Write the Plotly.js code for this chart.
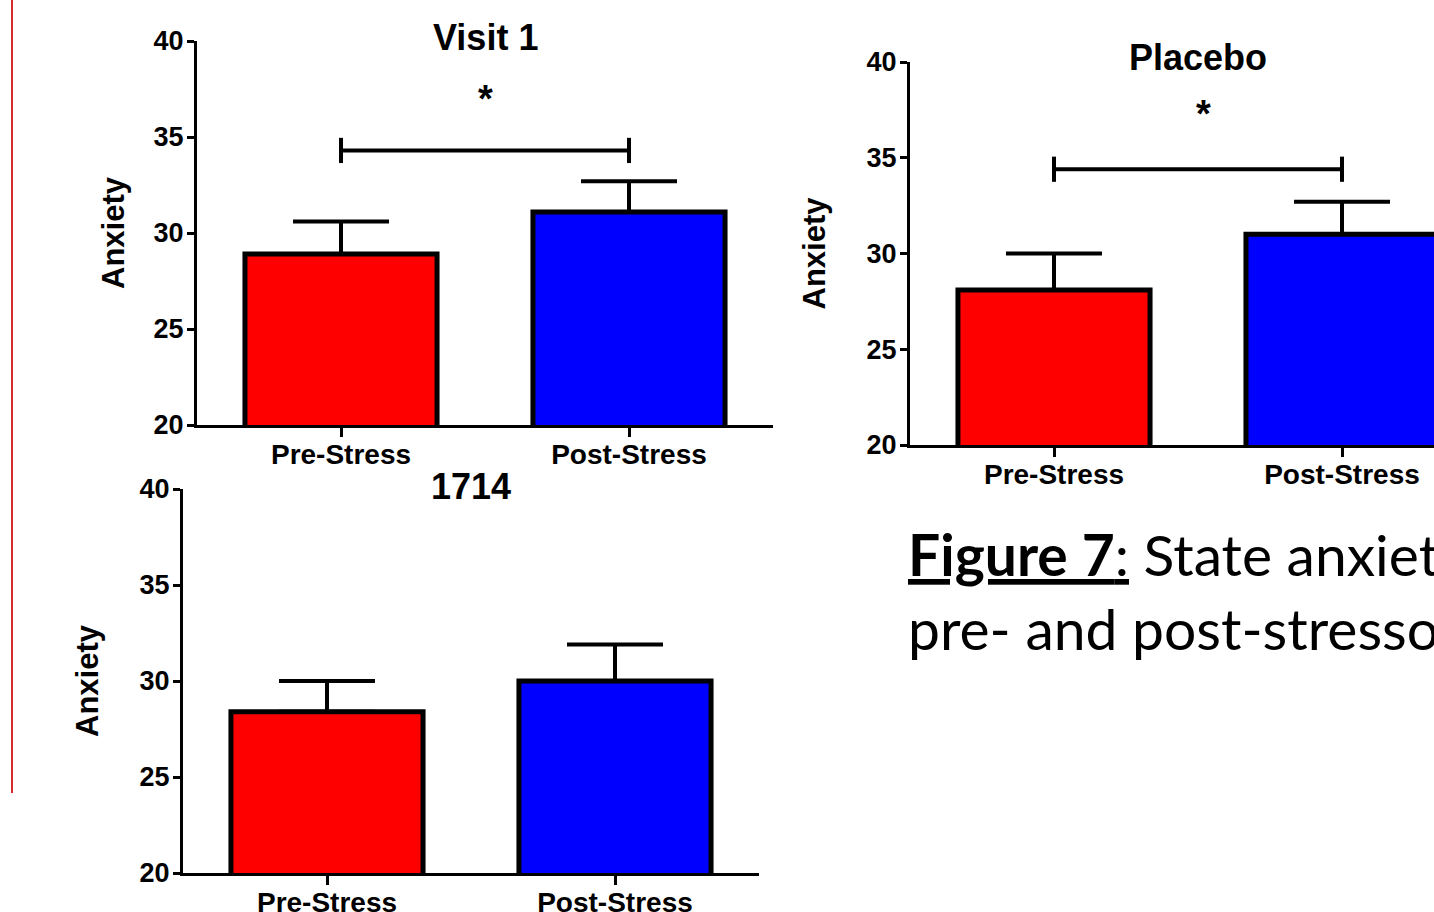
<!DOCTYPE html>
<html>
<head>
<meta charset="utf-8">
<script src="https://cdn.plot.ly/plotly-3.0.1.min.js"></script>
<style>
html,body{margin:0;padding:0;overflow:hidden;background:#fff;}
#chart{width:1500px;height:912px;}
</style>
</head>
<body>
<div id="chart"></div>
<script>
// ---- data ----
const categories = ['Pre-Stress', 'Post-Stress'];
const barColors = ['#ff0000', '#0000ff'];

const visit1Means = [28.9, 31.1];
const visit1Sem = [1.7, 1.6];
const visit1SigY = 34.3;
const visit1StarY = 37.0;

const placeboMeans = [28.1, 31.0];
const placeboSem = [1.9, 1.7];
const placeboSigY = 34.4;
const placeboStarY = 37.3;

const c1714Means = [28.4, 30.0];
const c1714Sem = [1.6, 1.9];

const yTicks = [20, 25, 30, 35, 40];
const titles = ['Visit 1', 'Placebo', '1714'];
const yLabel = 'Anxiety';
const captionLine1 = '<b><u>Figure 7</u></b><u>:</u> State anxiety';
const captionLine2 = 'pre- and post-stressor';

// ---- layout helpers ----
const W = 1500, H = 912;
const fx = p => p / W;
const fy = p => 1 - p / H;
const FONT = 'Liberation Sans, Arial, sans-serif';

function barTrace(means, sem, xa, ya) {
  return {
    type: 'bar', x: categories, y: means, xaxis: xa, yaxis: ya,
    width: 0.667,
    marker: {color: barColors, line: {color: '#000', width: 5}},
    error_y: {type: 'data', symmetric: false, array: sem, arrayminus: [0, 0],
              color: '#000', thickness: 4, width: 48},
    hoverinfo: 'skip', showlegend: false
  };
}
function sigTrace(yv, xa, ya) {
  return {
    type: 'scatter', mode: 'lines+markers', x: categories, y: [yv, yv],
    xaxis: xa, yaxis: ya,
    line: {color: '#000', width: 4},
    marker: {symbol: 'line-ns-open', size: 18, line: {color: '#000', width: 4}},
    hoverinfo: 'skip', showlegend: false
  };
}

const data = [
  barTrace(visit1Means, visit1Sem, 'x', 'y'),
  sigTrace(visit1SigY, 'x', 'y'),
  barTrace(placeboMeans, placeboSem, 'x2', 'y2'),
  sigTrace(placeboSigY, 'x2', 'y2'),
  barTrace(c1714Means, c1714Sem, 'x3', 'y3')
];

function xAxis(d, anchor) {
  return {
    domain: d, anchor: anchor, type: 'category', range: [-0.5, 1.5],
    showline: true, linecolor: '#000', linewidth: 3,
    ticks: 'outside', ticklen: 9, tickwidth: 3, tickcolor: '#000',
    ticklabelstandoff: -7,
    showgrid: false, zeroline: false, fixedrange: true,
    tickfont: {family: FONT, size: 28, color: '#000', weight: 'bold'}
  };
}
function yAxis(d, anchor, standoff) {
  return {
    domain: d, anchor: anchor, range: [20, 40], tickvals: yTicks,
    showline: true, linecolor: '#000', linewidth: 3,
    ticks: 'outside', ticklen: 7, tickwidth: 3, tickcolor: '#000',
    ticklabelstandoff: -2,
    showgrid: false, zeroline: false, fixedrange: true,
    tickfont: {family: FONT, size: 27, color: '#000', weight: 'bold'},
    title: {text: yLabel, standoff: standoff,
            font: {family: FONT, size: 31, color: '#000', weight: 'bold'}}
  };
}

const titleFont = {family: FONT, size: 36, color: '#000', weight: 'bold'};
const starFont = {family: FONT, size: 38, color: '#000', weight: 'bold'};
const layout = {
  width: W, height: H,
  margin: {l: 0, r: 0, t: 0, b: 0},
  paper_bgcolor: '#fff', plot_bgcolor: 'rgba(0,0,0,0)',
  xaxis: xAxis([fx(197), fx(773)], 'y'),
  yaxis: yAxis([fy(425), fy(41)], 'x', 20),
  xaxis2: xAxis([fx(910), fx(1486)], 'y2'),
  yaxis2: yAxis([fy(445), fy(62)], 'x2', 32),
  xaxis3: xAxis([fx(183), fx(759)], 'y3'),
  yaxis3: yAxis([fy(873), fy(489)], 'x3', 32),
  annotations: [
    {text: titles[0], xref: 'x', x: 0.5, yref: 'paper', y: fy(37), yanchor: 'middle', showarrow: false, font: titleFont},
    {text: titles[1], xref: 'x2', x: 0.5, yref: 'paper', y: fy(57), yanchor: 'middle', showarrow: false, font: titleFont},
    {text: titles[2], xref: 'x3', x: 0.5, yref: 'paper', y: fy(486), yanchor: 'middle', showarrow: false, font: titleFont},
    {text: '*', xref: 'x', x: 0.5, yref: 'y', y: visit1StarY, yanchor: 'middle', showarrow: false, font: starFont},
    {text: '*', xref: 'x2', x: 0.52, yref: 'y2', y: placeboStarY, yanchor: 'middle', showarrow: false, font: starFont},
    {text: captionLine1 + '<br>' + captionLine2, xref: 'paper', x: fx(906), xanchor: 'left', align: 'left',
     yref: 'paper', y: fy(518), yanchor: 'top', showarrow: false,
     font: {family: 'Lato, Carlito, sans-serif', size: 57, color: '#000'}}
  ],
  shapes: [
    {type: 'line', xref: 'paper', yref: 'paper', x0: fx(12), x1: fx(12), y0: 1, y1: fy(793),
     line: {color: '#d42a2a', width: 2}}
  ]
};

Plotly.newPlot('chart', data, layout, {staticPlot: true, displayModeBar: false});
</script>
</body>
</html>
